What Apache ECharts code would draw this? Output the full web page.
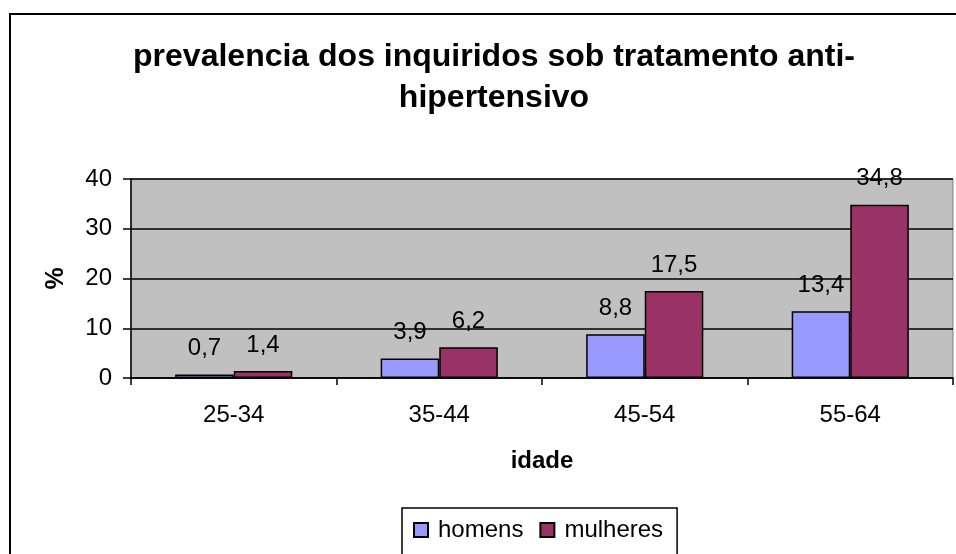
<!DOCTYPE html>
<html><head><meta charset="utf-8">
<script src="https://cdn.jsdelivr.net/npm/echarts@6/dist/echarts.min.js"></script>
<style>html,body{margin:0;padding:0;background:#fff}#c{width:956px;height:554px}</style>
</head><body><div id="c"></div>
<script>
var categories = ['25-34', '35-44', '45-54', '55-64'];
var homens = [0.7, 3.9, 8.8, 13.4];
var mulheres = [1.4, 6.2, 17.5, 34.8];
var yTicks = [0, 10, 20, 30, 40];

var FONT = '"Liberation Sans", Arial, sans-serif';
var fmt = function (p) { return p.value.toFixed(1).replace('.', ','); };
var chart = echarts.init(document.getElementById('c'));
chart.setOption({
  animation: false,
  backgroundColor: '#fff',
  title: {
    text: 'prevalencia dos inquiridos sob tratamento anti-\nhipertensivo',
    left: 489, top: 32, textAlign: 'center',
    textStyle: { fontFamily: FONT, fontWeight: 'bold', fontSize: 32, lineHeight: 41, color: '#000' }
  },
  graphic: [{
    type: 'rect', z: -1, silent: true,
    shape: { x: 10, y: 14, width: 1000, height: 700 },
    style: { fill: null, stroke: '#000', lineWidth: 2 }
  }],
  legend: {
    left: 402, top: 508,
    padding: [10, 14, 30, 11],
    borderColor: '#000', borderWidth: 1.5,
    itemWidth: 14, itemHeight: 14, itemGap: 16,
    icon: 'rect',
    textStyle: { fontFamily: FONT, fontSize: 24, color: '#000', padding: [0, 0, 0, 5] },
    data: ['homens', 'mulheres']
  },
  grid: {
    left: 131, right: 3, top: 179, bottom: 176,
    show: true, backgroundColor: '#C0C0C0', borderColor: '#808080', borderWidth: 1
  },
  xAxis: {
    type: 'category', data: categories,
    name: 'idade', nameLocation: 'middle', nameGap: 71,
    nameTextStyle: { fontFamily: FONT, fontWeight: 'bold', fontSize: 24, color: '#000' },
    axisLine: { lineStyle: { color: '#000', width: 1.5 } },
    axisTick: { show: true, interval: 0, length: 7, alignWithLabel: false, lineStyle: { color: '#000', width: 1.5 } },
    axisLabel: { margin: 25, fontFamily: FONT, fontSize: 24, color: '#000' },
    splitLine: { show: false }
  },
  yAxis: {
    type: 'value', min: 0, max: 40, interval: 10,
    name: '%', nameLocation: 'middle', nameGap: 62, nameRotate: 90,
    nameTextStyle: { fontFamily: FONT, fontWeight: 'bold', fontSize: 25, color: '#000' },
    axisLine: { show: true, lineStyle: { color: '#000', width: 1.5 } },
    axisTick: { show: true, length: 8, lineStyle: { color: '#000', width: 1.5 } },
    axisLabel: { margin: 19, fontFamily: FONT, fontSize: 24, color: '#000',
      formatter: function (v) { return yTicks.indexOf(v) >= 0 ? String(v) : ''; } },
    splitLine: { show: true, lineStyle: { color: '#000', width: 1.5 } }
  },
  series: [{
    name: 'homens', type: 'bar', data: homens,
    barGap: '0%', barCategoryGap: '43%',
    itemStyle: { color: '#9999FF', borderColor: '#000', borderWidth: 1.5 },
    label: { show: true, position: 'top', distance: 14, formatter: fmt,
      fontFamily: FONT, fontSize: 24, color: '#000' }
  }, {
    name: 'mulheres', type: 'bar', data: mulheres,
    barGap: '0%', barCategoryGap: '43%',
    itemStyle: { color: '#993366', borderColor: '#000', borderWidth: 1.5 },
    label: { show: true, position: 'top', distance: 14, formatter: fmt,
      fontFamily: FONT, fontSize: 24, color: '#000' }
  }]
});
</script></body></html>
